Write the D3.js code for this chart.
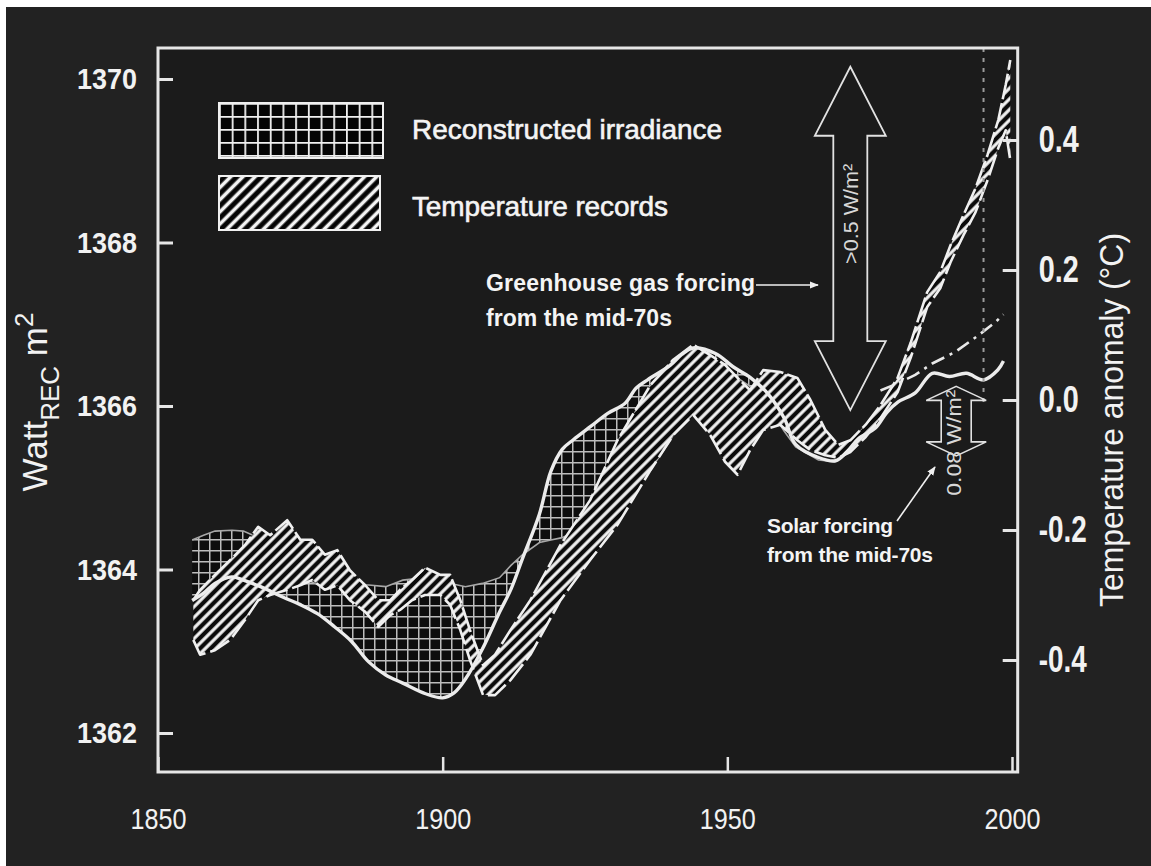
<!DOCTYPE html>
<html>
<head>
<meta charset="utf-8">
<script src="https://cdn.jsdelivr.net/npm/d3@7"></script>
<style>
  html, body { margin: 0; padding: 0; background: #ffffff; }
  svg { display: block; }
  text { font-family: "Liberation Sans", Arial, sans-serif; }
</style>
</head>
<body>
<svg id="chart" width="1151" height="866"></svg>
<script>
// ---- tick values ----
const yearTicks = [1850, 1900, 1950, 2000];
const irrTicks = [1362, 1364, 1366, 1368, 1370];
const tempTicks = [-0.4, -0.2, 0.0, 0.2, 0.4];

// ---- reconstructed irradiance (W/m2): main reconstruction and the envelope line ----
const irrYears = [1856, 1858, 1860, 1863, 1865, 1868, 1872, 1875, 1878, 1881,
                  1884, 1887, 1890, 1893, 1897, 1900, 1902, 1904, 1907, 1910,
                  1912, 1914, 1917, 1919, 1921, 1923, 1926, 1929, 1932, 1934,
                  1936, 1940, 1942, 1944, 1948, 1951, 1954, 1957, 1960, 1962,
                  1966, 1969, 1971, 1973, 1976, 1978, 1980, 1983, 1986, 1989,
                  1992, 1995, 1997.5, 1998.5];
const irrSolid = [1363.62, 1363.71, 1363.83, 1363.91, 1363.87, 1363.79, 1363.66, 1363.57, 1363.46, 1363.30,
                  1363.12, 1362.87, 1362.71, 1362.61, 1362.48, 1362.43, 1362.49, 1362.66, 1363.03, 1363.48,
                  1363.76, 1364.13, 1364.68, 1365.20, 1365.47, 1365.59, 1365.75, 1365.91, 1366.03, 1366.22,
                  1366.32, 1366.50, 1366.63, 1366.71, 1366.64, 1366.48, 1366.35, 1366.16, 1365.85, 1365.53,
                  1365.37, 1365.33, 1365.44, 1365.60, 1365.73, 1365.92, 1366.05, 1366.16, 1366.40, 1366.36,
                  1366.40, 1366.32, 1366.44, 1366.55];
const irrEnvelope = [1364.36, 1364.42, 1364.47, 1364.48, 1364.47, 1364.38, 1364.08, 1363.90, 1363.82, 1363.81,
                     1363.81, 1363.81, 1363.79, 1363.87, 1363.90, 1363.87, 1363.82, 1363.79, 1363.83, 1363.90,
                     1364.05, 1364.18, 1364.33, 1364.36, 1364.39, 1364.46, 1364.58, 1364.72, 1364.86, 1364.97,
                     1365.17, 1365.58, 1365.85, 1366.03, 1366.50, 1366.38, 1366.24, 1366.01, 1365.69, 1365.50,
                     1365.34, 1365.32, null, null, null, null, null, null, null, null,
                     null, null, null, null];

// ---- temperature records (anomaly, deg C): upper and lower edge of the record band ----
const tempYears = [1856.2, 1857.4, 1860.0, 1862.7, 1865.3, 1867.6, 1869.7, 1872.7, 1875.0, 1877.1,
                   1879.3, 1881.5, 1883.7, 1886.4, 1888.7, 1890.8, 1892.5, 1894.6, 1896.9, 1899.6,
                   1901.3, 1903.1, 1904.8, 1907.1, 1909.2, 1911.9, 1915.4, 1920.7, 1925.9, 1930.7,
                   1936.5, 1940.5, 1944.0, 1947.0, 1949.6, 1951.8, 1954.0, 1956.3, 1959.3, 1962.3,
                   1964.6, 1967.2, 1969.5, 1971.6, 1974.3, 1976.9, 1979.9, 1982.2, 1985.1, 1987.4,
                   1989.2, 1991.5, 1993.6, 1995.7, 1997.6, 1998.9, 1999.7];
const tempUpper = [-0.308, -0.292, -0.269, -0.246, -0.223, -0.195, -0.208, -0.185, -0.215, -0.215,
                   -0.238, -0.231, -0.262, -0.285, -0.308, -0.308, -0.292, -0.277, -0.258, -0.269,
                   -0.269, -0.308, -0.354, -0.408, -0.392, -0.354, -0.308, -0.223, -0.154, -0.062,
                   0.023, 0.062, 0.085, 0.069, 0.054, 0.034, 0.015, 0.046, 0.043, 0.034,
                   0.000, -0.046, -0.069, -0.062, -0.038, -0.008, 0.034, 0.088, 0.166, 0.197,
                   0.238, 0.285, 0.326, 0.377, 0.431, 0.485, 0.523];
const tempLower = [-0.369, -0.392, -0.385, -0.369, -0.338, -0.308, -0.300, -0.292, -0.285, -0.277,
                   -0.292, -0.285, -0.308, -0.326, -0.349, -0.331, -0.323, -0.308, -0.300, -0.300,
                   -0.315, -0.354, -0.400, -0.454, -0.454, -0.431, -0.392, -0.308, -0.246, -0.192,
                   -0.108, -0.054, -0.023, -0.054, -0.095, -0.115, -0.077, -0.046, -0.038, -0.062,
                   -0.077, -0.085, -0.089, -0.080, -0.057, -0.028, 0.012, 0.065, 0.143, 0.172,
                   0.212, 0.254, 0.289, 0.338, 0.388, 0.415, 0.369];

// ---- dash-dot curve after the mid-70s (W/m2) ----
const comboYears = [1976.9, 1980, 1983, 1986, 1990, 1994, 1997, 1998.5];
const comboValues = [1366.19, 1366.28, 1366.38, 1366.52, 1366.66, 1366.86, 1367.02, 1367.12];

// ---- texts ----
const legendLabels = ["Reconstructed irradiance", "Temperature records"];
const ghgNote = ["Greenhouse gas forcing", "from the mid-70s"];
const solarNote = ["Solar forcing", "from the mid-70s"];
const ghgLabel = ">0.5 W/m²";
const solarLabel = "0.08 W/m²";

// ---------------------------------------------------------------
const svg = d3.select("#chart");
const W = 1151, H = 866;

const x = d3.scaleLinear().domain([1850, 2000]).range([158, 1012]);
const yL = d3.scaleLinear().domain([1362, 1370]).range([733, 79]);
const yR = d3.scaleLinear().domain([-0.4, 0.4]).range([660, 140]);

const pL = x(1850), pR = x(2001), pT = 48, pB = 772;

const defs = svg.append("defs");

// cross-hatch for the irradiance band
const grid = defs.append("pattern").attr("id", "grid")
  .attr("patternUnits", "userSpaceOnUse").attr("width", 11).attr("height", 11);
grid.append("rect").attr("width", 11).attr("height", 11).attr("fill", "#0e0e0e");
grid.append("path").attr("d", "M0,0.75H11M0.75,0V11")
  .attr("stroke", "#bdbdbd").attr("stroke-width", 1.5);

// diagonal hatch for the temperature band
const hatch = defs.append("pattern").attr("id", "hatch")
  .attr("patternUnits", "userSpaceOnUse").attr("width", 7.5).attr("height", 7.5)
  .attr("patternTransform", "rotate(45)");
hatch.append("rect").attr("width", 7.5).attr("height", 7.5).attr("fill", "#0b0b0b");
hatch.append("line").attr("x1", 3.75).attr("x2", 3.75).attr("y1", 0).attr("y2", 7.5)
  .attr("stroke", "#f2f2f2").attr("stroke-width", 3.2);

// legend swatches
const gridL = defs.append("pattern").attr("id", "gridL")
  .attr("patternUnits", "userSpaceOnUse").attr("width", 12.7).attr("height", 13)
  .attr("x", 219).attr("y", 103);
gridL.append("rect").attr("width", 12.7).attr("height", 13).attr("fill", "#050505");
gridL.append("path").attr("d", "M0,0.9H12.7M0.9,0V13")
  .attr("stroke", "#f0f0f0").attr("stroke-width", 1.8);

const hatchL = defs.append("pattern").attr("id", "hatchL")
  .attr("patternUnits", "userSpaceOnUse").attr("width", 8.6).attr("height", 8.6)
  .attr("patternTransform", "rotate(45)");
hatchL.append("rect").attr("width", 8.6).attr("height", 8.6).attr("fill", "#050505");
hatchL.append("line").attr("x1", 4.3).attr("x2", 4.3).attr("y1", 0).attr("y2", 8.6)
  .attr("stroke", "#f4f4f4").attr("stroke-width", 3.6);

defs.append("clipPath").attr("id", "plotClip")
  .append("rect").attr("x", pL).attr("y", pT)
  .attr("width", pR - pL).attr("height", pB - pT);

const marker = defs.append("marker").attr("id", "head")
  .attr("viewBox", "0 0 10 10").attr("refX", 9).attr("refY", 5)
  .attr("markerWidth", 9).attr("markerHeight", 9).attr("markerUnits", "userSpaceOnUse")
  .attr("orient", "auto");
marker.append("path").attr("d", "M0,1L10,5L0,9Z").attr("fill", "#f0f0f0");

// ---- backgrounds ----
svg.append("rect").attr("width", W).attr("height", H).attr("fill", "#ffffff");
svg.append("rect").attr("x", 6).attr("y", 7).attr("width", W - 6).attr("height", H - 7)
  .attr("fill", "#222222");
svg.append("rect").attr("x", pL).attr("y", pT)
  .attr("width", pR - pL).attr("height", pB - pT).attr("fill", "#1b1b1b");

const plot = svg.append("g").attr("clip-path", "url(#plotClip)");

// ---- irradiance band ----
const irrRows = irrYears.map((yr, i) => ({ yr, a: irrSolid[i], b: irrEnvelope[i] }));
const irrBand = irrRows.filter(d => d.b != null);

plot.append("path").datum(irrBand)
  .attr("fill", "url(#grid)")
  .attr("d", d3.area().x(d => x(d.yr)).y0(d => yL(d.a)).y1(d => yL(d.b)));

plot.append("path").datum(irrBand)
  .attr("fill", "none").attr("stroke", "#a8a8a8").attr("stroke-width", 1.6)
  .attr("d", d3.line().x(d => x(d.yr)).y(d => yL(d.b)));

// ---- temperature band ----
const tempRows = tempYears.map((yr, i) => ({ yr, hi: tempUpper[i], lo: tempLower[i] }));

plot.append("path").datum(tempRows)
  .attr("fill", "url(#hatch)")
  .attr("d", d3.area().x(d => x(d.yr)).y0(d => yR(d.lo)).y1(d => yR(d.hi)));

const edge = (key) => d3.line().x(d => x(d.yr)).y(d => yR(d[key]));
plot.append("path").datum(tempRows)
  .attr("fill", "none").attr("stroke", "#f0f0f0").attr("stroke-width", 2.6)
  .attr("stroke-dasharray", "26,4").attr("stroke-linejoin", "round")
  .attr("d", edge("hi"));
plot.append("path").datum(tempRows)
  .attr("fill", "none").attr("stroke", "#f0f0f0").attr("stroke-width", 2.6)
  .attr("stroke-dasharray", "22,5").attr("stroke-linejoin", "round")
  .attr("d", edge("lo"));

// ---- irradiance reconstruction line ----
plot.append("path").datum(irrRows)
  .attr("fill", "none").attr("stroke", "#ececec").attr("stroke-width", 3.4)
  .attr("stroke-linejoin", "round")
  .attr("d", d3.line().curve(d3.curveCatmullRom.alpha(0.5)).x(d => x(d.yr)).y(d => yL(d.a)));

// ---- dash-dot curve ----
plot.append("path").datum(comboYears.map((yr, i) => [yr, comboValues[i]]))
  .attr("fill", "none").attr("stroke", "#e8e8e8").attr("stroke-width", 2.6)
  .attr("stroke-dasharray", "14,6,3,6")
  .attr("d", d3.line().x(d => x(d[0])).y(d => yL(d[1])));

// ---- dotted marker at 1995 ----
plot.append("line")
  .attr("x1", x(1995)).attr("x2", x(1995))
  .attr("y1", pT).attr("y2", yL(1366.05))
  .attr("stroke", "#9a9a9a").attr("stroke-width", 2).attr("stroke-dasharray", "4,6");

// ---- frame ----
svg.append("rect").attr("x", pL).attr("y", pT)
  .attr("width", pR - pL).attr("height", pB - pT)
  .attr("fill", "none").attr("stroke", "#e6e6e6").attr("stroke-width", 3);

// ---- axes ----
const tickFont = (g, size, weight) => g.selectAll("text")
  .attr("fill", "#f2f2f2").attr("font-size", size).attr("font-weight", weight)
  .attr("font-family", "'Liberation Sans', Arial, sans-serif");

const gL = svg.append("g").attr("transform", `translate(${pL},0)`)
  .call(d3.axisLeft(yL).tickValues(irrTicks).tickSize(-15).tickPadding(21).tickFormat(d3.format("d")));
gL.select(".domain").remove();
gL.selectAll("line").attr("stroke", "#e6e6e6").attr("stroke-width", 3);
tickFont(gL, 30, "bold");
gL.selectAll("text").attr("textLength", 60).attr("lengthAdjust", "spacingAndGlyphs");

const gR = svg.append("g").attr("transform", `translate(${pR},0)`)
  .call(d3.axisRight(yR).tickValues(tempTicks).tickSize(-15).tickPadding(21).tickFormat(d3.format(".1f")));
gR.select(".domain").remove();
gR.selectAll("line").attr("stroke", "#e6e6e6").attr("stroke-width", 3);
tickFont(gR, 37, "bold");
gR.selectAll("text")
  .text(d => d < 0 ? "-" + Math.abs(d).toFixed(1) : d.toFixed(1))
  .attr("textLength", d => d < 0 ? 48 : 40).attr("lengthAdjust", "spacingAndGlyphs");

const gB = svg.append("g").attr("transform", `translate(0,${pB})`)
  .call(d3.axisBottom(x).tickValues(yearTicks).tickSize(-15).tickPadding(36).tickFormat(d3.format("d")));
gB.select(".domain").remove();
gB.selectAll("line").attr("stroke", "#e6e6e6").attr("stroke-width", 2.5);
tickFont(gB, 30, "normal");
gB.selectAll("text").attr("textLength", 56).attr("lengthAdjust", "spacingAndGlyphs");

// ---- axis titles ----
const lt = svg.append("text")
  .attr("transform", "translate(47,402) rotate(-90)")
  .attr("text-anchor", "middle").attr("fill", "#f2f2f2").attr("font-size", 35);
lt.append("tspan").text("Watt");
lt.append("tspan").attr("font-size", 26).attr("dy", 12).text("REC");
lt.append("tspan").attr("dy", -12).text(" m");
lt.append("tspan").attr("font-size", 26).attr("dy", -14).text("2");

svg.append("text")
  .attr("transform", "translate(1123,420) rotate(-90)")
  .attr("text-anchor", "middle").attr("fill", "#f2f2f2").attr("font-size", 33)
  .attr("textLength", 374).attr("lengthAdjust", "spacingAndGlyphs")
  .text("Temperature anomaly (°C)");

// ---- legend ----
svg.append("rect").attr("x", 219).attr("y", 103).attr("width", 164).attr("height", 55)
  .attr("fill", "url(#gridL)").attr("stroke", "#f0f0f0").attr("stroke-width", 2);
svg.append("rect").attr("x", 219).attr("y", 176).attr("width", 161).attr("height", 54)
  .attr("fill", "url(#hatchL)").attr("stroke", "#f0f0f0").attr("stroke-width", 2);
svg.selectAll(".legend-label").data(legendLabels).join("text")
  .attr("class", "legend-label")
  .attr("x", 412).attr("y", (d, i) => i === 0 ? 139 : 216)
  .attr("fill", "#f4f4f4").attr("font-size", 28)
  .attr("stroke", "#f4f4f4").attr("stroke-width", 0.6)
  .attr("textLength", (d, i) => i === 0 ? 310 : 256)
  .text(d => d);

// ---- greenhouse gas forcing annotation ----
const bigArrow = (cx, yTop, yBot, hl, hw, sw) => {
  const p = d3.path();
  p.moveTo(cx, yTop);
  p.lineTo(cx + hw, yTop + hl); p.lineTo(cx + sw, yTop + hl);
  p.lineTo(cx + sw, yBot - hl); p.lineTo(cx + hw, yBot - hl);
  p.lineTo(cx, yBot);
  p.lineTo(cx - hw, yBot - hl); p.lineTo(cx - sw, yBot - hl);
  p.lineTo(cx - sw, yTop + hl); p.lineTo(cx - hw, yTop + hl);
  p.closePath();
  return p.toString();
};

const gx = x(1971.6);
svg.append("path")
  .attr("d", bigArrow(gx, yL(1370.15), yL(1365.95), 69, 35.5, 17))
  .attr("fill", "none").attr("stroke", "#e2e2e2").attr("stroke-width", 1.8)
  .attr("stroke-linejoin", "miter");
svg.append("text")
  .attr("transform", `translate(${gx + 1},${yL(1368.35)}) rotate(-90)`)
  .attr("text-anchor", "middle").attr("dominant-baseline", "central")
  .attr("fill", "#d8d8d8").attr("font-size", 20)
  .attr("textLength", 100).attr("lengthAdjust", "spacingAndGlyphs")
  .text(ghgLabel);

svg.selectAll(".ghg-note").data(ghgNote).join("text")
  .attr("class", "ghg-note")
  .attr("x", 486).attr("y", (d, i) => 291 + i * 35)
  .attr("fill", "#f4f4f4").attr("font-size", 23).attr("font-weight", "bold")
  .attr("textLength", (d, i) => i === 0 ? 269 : 186)
  .text(d => d);
svg.append("line")
  .attr("x1", 756).attr("y1", 285).attr("x2", 818).attr("y2", 285)
  .attr("stroke", "#f0f0f0").attr("stroke-width", 1.6).attr("marker-end", "url(#head)");

// ---- solar forcing annotation ----
const sx = x(1990.2);
svg.append("path")
  .attr("d", bigArrow(sx, yL(1366.24), yL(1365.39), 14, 30, 15))
  .attr("fill", "none").attr("stroke", "#e2e2e2").attr("stroke-width", 1.6);
svg.append("text")
  .attr("transform", `translate(${sx - 2},${yL(1365.55)}) rotate(-90)`)
  .attr("text-anchor", "middle").attr("dominant-baseline", "central")
  .attr("fill", "#d8d8d8").attr("font-size", 20)
  .attr("textLength", 106).attr("lengthAdjust", "spacingAndGlyphs")
  .text(solarLabel);

svg.selectAll(".solar-note").data(solarNote).join("text")
  .attr("class", "solar-note")
  .attr("x", 767).attr("y", (d, i) => 533 + i * 29)
  .attr("fill", "#f4f4f4").attr("font-size", 21).attr("font-weight", "bold")
  .attr("textLength", (d, i) => i === 0 ? 126 : 166)
  .text(d => d);
svg.append("line")
  .attr("x1", 897).attr("y1", 521).attr("x2", 935).attr("y2", 467)
  .attr("stroke", "#f0f0f0").attr("stroke-width", 1.6).attr("marker-end", "url(#head)");
</script>
</body>
</html>
